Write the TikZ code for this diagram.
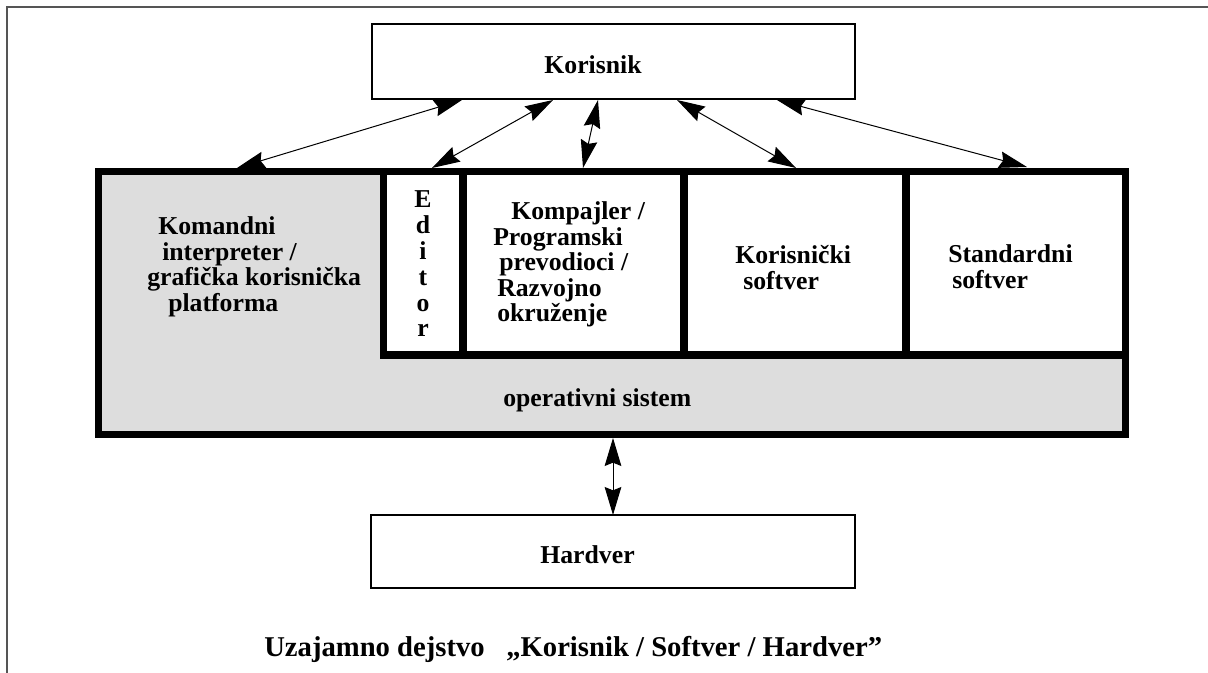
\documentclass[tikz,border=0pt]{standalone}
\usepackage{fontspec}
\setmainfont{Liberation Serif}
\usetikzlibrary{arrows.meta,fit}
\definecolor{shellgray}{HTML}{DDDDDD}
\definecolor{framegray}{HTML}{555555}

\begin{document}
\begin{tikzpicture}[x=0.75pt,y=-0.75pt,
  lbl/.style={font=\bfseries\fontsize{19.3pt}{19.3pt}\selectfont, inner sep=0pt, anchor=base west},
  clbl/.style={lbl, anchor=base},
  thinbox/.style={draw, line width=1.5pt, fill=white, inner sep=0pt},
  heavybox/.style={draw, line width=5.4pt, inner sep=0pt},
  link/.style={line width=0.75pt, {Stealth[length=21pt,width=12.5pt,inset=2.5pt]}-{Stealth[length=21pt,width=12.5pt,inset=2.5pt]}}]

  % page area and corner frame
  \useasboundingbox (0,0) rectangle (1208,673);
  \draw[framegray, line width=1.5pt] (7,673) -- (7,7) -- (1208,7);

  % user and hardware boxes
  \node[thinbox, fit={(372,24) (855,99)}] (kor) {};
  \node[thinbox, fit={(371,515) (855,588)}] (hw) {};
  \node[clbl] (korlbl) at (593,74) {Korisnik};
  \node[clbl] (hwlbl) at (587.5,564) {Hardver};

  % operating system shell
  \node[heavybox, fill=shellgray, fit={(98.5,171.5) (1125.5,434.5)}] (os) {};

  % application row
  \node[heavybox, fill=white, fit={(383.5,171.5) (463,355)}] (ed) {};
  \node[heavybox, fill=white, fit={(463,171.5) (684,355)}] (comp) {};
  \node[heavybox, fill=white, fit={(684,171.5) (906,355)}] (usw) {};
  \node[heavybox, fill=white, fit={(906,171.5) (1125.5,355)}] (std) {};

  % labels in the shell
  \node[lbl] (cmd1) at (158,235) {Komandni};
  \node[lbl] (cmd2) at (162,260.5) {interpreter /};
  \node[lbl] (cmd3) at (147,286) {grafička korisnička};
  \node[lbl] (cmd4) at (168,312) {platforma};
  \node[lbl] (oslbl) at (503,407) {operativni sistem};

  % vertical editor label
  \foreach \ch [count=\i from 0] in {E,d,i,t,o,r}
    \node[clbl] (ed\i) at (423,208+25.8*\i) {\ch};

  % compiler box
  \node[lbl] (cp1) at (511,220) {Kompajler /};
  \node[lbl] (cp2) at (493,245.5) {Programski};
  \node[lbl] (cp3) at (499,271) {prevodioci /};
  \node[lbl] (cp4) at (497,296.5) {Razvojno};
  \node[lbl] (cp5) at (497,322) {okruženje};

  % user and standard software
  \node[lbl] (us1) at (735,264) {Korisnički};
  \node[lbl] (us2) at (743,289.5) {softver};
  \node[lbl] (st1) at (948,263) {Standardni};
  \node[lbl] (st2) at (952,289) {softver};

  % connector end points
  \coordinate (k1) at (462,100);  \coordinate (b1) at (237,168);
  \coordinate (k2) at (553,100);  \coordinate (b2) at (432,168);
  \coordinate (k3) at (598,100);  \coordinate (b3) at (583,168);
  \coordinate (k4) at (677,100);  \coordinate (b4) at (796,168);
  \coordinate (k5) at (777,100);  \coordinate (b5) at (1027,167);
  \coordinate (osb) at (613,438); \coordinate (hwt) at (613,515);

  \draw[link] (k1) -- (b1);
  \draw[link] (k2) -- (b2);
  \draw[link] (k3) -- (b3);
  \draw[link] (k4) -- (b4);
  \draw[link] (k5) -- (b5);
  \draw[link] (osb) -- (hwt);

  % caption
  \node[inner sep=0pt, anchor=base west] (cap) at (264,657)
    {\bfseries\fontsize{21.5pt}{21.5pt}\selectfont Uzajamno dejstvo\hspace{0.75em}„Korisnik / Softver / Hardver”};
\end{tikzpicture}
\end{document}
